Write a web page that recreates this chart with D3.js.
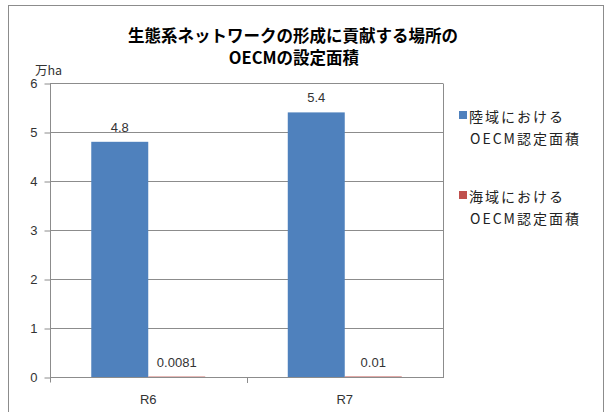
<!DOCTYPE html>
<html><head><meta charset="utf-8">
<script src="https://cdn.jsdelivr.net/npm/d3@7"></script>
<style>
body{margin:0;background:#fff;}
svg{display:block;font-family:"Noto Sans CJK JP","Noto Sans",sans-serif;}
</style></head>
<body>
<svg id="c" width="607" height="412"></svg>
<script>
const categories = ["R6", "R7"];
const seriesNames = ["陸域における\nOECM認定面積", "海域における\nOECM認定面積"];
const landValues = [4.8, 5.4];
const seaValues = [0.0081, 0.01];
const valueLabels = [["4.8", "5.4"], ["0.0081", "0.01"]];
const yTicks = [0, 1, 2, 3, 4, 5, 6];
const colors = ["#4F81BD", "#C0504D"];
const titleLines = ["生態系ネットワークの形成に貢献する場所の", "OECMの設定面積"];
const unitLabel = "万ha";

const svg = d3.select("#c");
const plot = {left: 50, right: 443, top: 83, bottom: 377};

// outer border
svg.append("rect").attr("x", 8.5).attr("y", 5.5).attr("width", 595).attr("height", 420)
  .attr("fill", "#fff").attr("stroke", "#8c8c8c").attr("stroke-width", 1);

// title
svg.append("text").attr("x", 293).attr("y", 42).attr("text-anchor", "middle")
  .attr("font-size", 16.5).attr("font-weight", "bold").attr("fill", "#000").text(titleLines[0]);
svg.append("text").attr("x", 294).attr("y", 64).attr("text-anchor", "middle")
  .attr("font-size", 16.5).attr("font-weight", "bold").attr("fill", "#000").text(titleLines[1]);

const y = d3.scaleLinear().domain([0, 6]).range([plot.bottom, plot.top]);
const x0 = d3.scaleBand().domain(categories).range([plot.left, plot.right])
  .paddingInner(0.42).paddingOuter(0.21);
const x1 = d3.scaleBand().domain([0, 1]).range([0, x0.bandwidth()]);
const xb = d3.scaleBand().domain(categories).range([plot.left, plot.right]);

// gridlines
svg.append("g").selectAll("line").data(yTicks.filter(d => d > 0)).join("line")
  .attr("x1", plot.left).attr("x2", plot.right)
  .attr("y1", d => Math.round(y(d)) + 0.5).attr("y2", d => Math.round(y(d)) + 0.5)
  .attr("stroke", "#8c8c8c").attr("stroke-width", 1);
// right border of plot
svg.append("line").attr("x1", plot.right + 0.5).attr("x2", plot.right + 0.5)
  .attr("y1", Math.round(y(6)) + 0.5).attr("y2", plot.bottom + 1)
  .attr("stroke", "#8c8c8c");

// y axis
const yAxis = d3.axisLeft(y).tickValues(yTicks).tickSize(6).tickPadding(7).tickFormat(d3.format("d"));
const gy = svg.append("g").attr("transform", `translate(${plot.left + 0.5},0.5)`).call(yAxis);
gy.select(".domain").attr("stroke", "#8c8c8c").attr("d", `M-0,${plot.top}V${plot.bottom + 5}`);
gy.selectAll(".tick line").attr("stroke", "#8c8c8c");
gy.selectAll(".tick text").attr("font-size", 13).attr("fill", "#333")
  .attr("font-family", "'Liberation Sans','DejaVu Sans',sans-serif");

// unit label
svg.append("text").attr("x", 35).attr("y", 75).attr("font-size", 12.5).attr("fill", "#333").text(unitLabel);

// bars
const data = [landValues, seaValues];
categories.forEach((cat, i) => {
  data.forEach((vals, s) => {
    const bx = x0(cat) + x1(s);
    svg.append("rect").attr("x", bx).attr("width", x1.bandwidth())
      .attr("y", y(vals[i])).attr("height", Math.max(plot.bottom - y(vals[i]), 0.6))
      .attr("fill", colors[s]);
    svg.append("text").attr("x", bx + x1.bandwidth() / 2).attr("y", y(vals[i]) - 10)
      .attr("text-anchor", "middle").attr("font-size", 13).attr("fill", "#333")
      .attr("font-family", "'Liberation Sans','DejaVu Sans',sans-serif")
      .text(valueLabels[s][i]);
  });
});

// x axis
const xAxis = d3.axisBottom(xb).tickSize(0).tickPadding(17);
const gx = svg.append("g").attr("transform", `translate(0,${plot.bottom + 0.5})`).call(xAxis);
gx.select(".domain").attr("stroke", "#8c8c8c").attr("d", `M${plot.left},0H${plot.right + 1}`);
gx.selectAll(".tick text").attr("font-size", 13).attr("fill", "#333")
  .attr("font-family", "'Liberation Sans','DejaVu Sans',sans-serif");
// category separator ticks
svg.append("g").selectAll("line").data(categories.slice(1)).join("line")
  .attr("x1", d => Math.round(xb(d)) + 0.5).attr("x2", d => Math.round(xb(d)) + 0.5)
  .attr("y1", plot.bottom).attr("y2", plot.bottom + 6).attr("stroke", "#8c8c8c");

// legend
const legendTop = [111, 191];
seriesNames.forEach((name, s) => {
  const g = svg.append("g");
  g.append("rect").attr("x", 459).attr("y", legendTop[s]).attr("width", 8).attr("height", 8).attr("fill", colors[s]);
  const lines = name.split("\n");
  lines.forEach((ln, k) => {
    g.append("text").attr("x", k === 0 ? 469 : 470).attr("y", legendTop[s] + 11 + k * 22)
      .attr("font-size", 14).attr("letter-spacing", 2).attr("fill", "#222").text(ln);
  });
});
</script>
</body></html>
